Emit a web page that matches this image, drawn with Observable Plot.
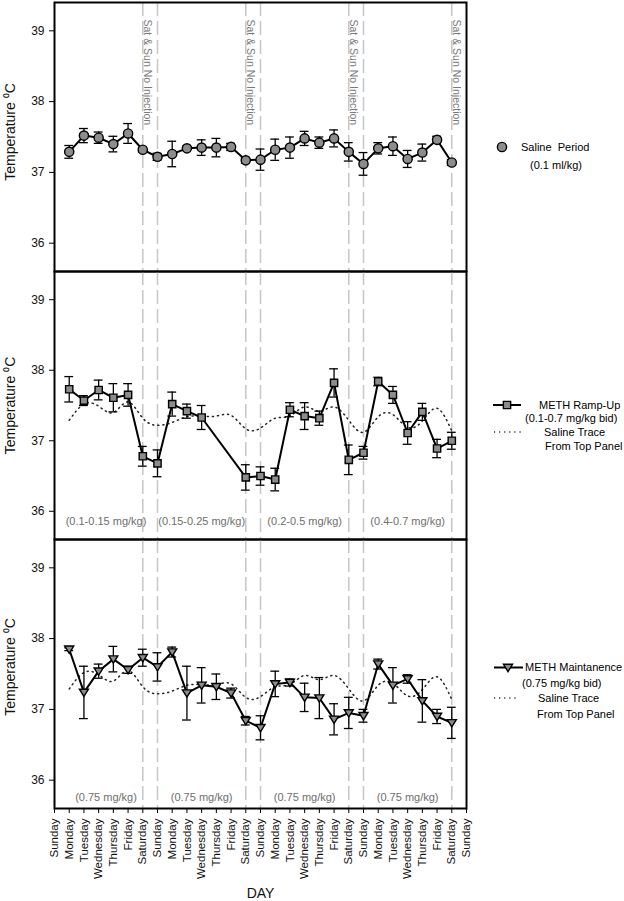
<!DOCTYPE html>
<html><head><meta charset="utf-8">
<script src="https://cdn.jsdelivr.net/npm/d3@7"></script>
<script src="https://cdn.jsdelivr.net/npm/@observablehq/plot@0.6"></script>
<style>
body{margin:0;background:#fff;font-family:"Liberation Sans",Arial,sans-serif;}
#chart{position:relative;width:624px;height:901px;overflow:hidden;background:#fff;}
#chart > svg{display:block;overflow:visible;}
#legend{position:absolute;left:0;top:0;}
</style></head><body><div id="chart"></div>
<script>
// ---------- data ----------
const dayTickLabels = ["Sunday","Monday","Tuesday","Wednesday","Thursday","Friday","Saturday",
  "Sunday","Monday","Tuesday","Wednesday","Thursday","Friday","Saturday",
  "Sunday","Monday","Tuesday","Wednesday","Thursday","Friday","Saturday",
  "Sunday","Monday","Tuesday","Wednesday","Thursday","Friday","Saturday","Sunday"];
const weekendDays = [6, 7, 13, 14, 20, 21, 27];
const noInjectionDays = [6, 13, 20, 27];
const noInjectionText = "Sat & Sun No Injection";

const salineDays = [1,2,3,4,5,6,7,8,9,10,11,12,13,14,15,16,17,18,19,20,21,22,23,24,25,26,27];
const salineMean = [37.29,37.52,37.49,37.40,37.55,37.32,37.22,37.26,37.34,37.35,37.35,37.36,37.17,37.18,37.32,37.35,37.48,37.42,37.48,37.29,37.12,37.34,37.37,37.19,37.28,37.46,37.14];
const salineSem  = [0.09,0.10,0.08,0.11,0.14,0.03,0.05,0.18,0.03,0.11,0.13,0.05,0.04,0.15,0.15,0.15,0.10,0.08,0.12,0.13,0.16,0.08,0.13,0.12,0.12,0.05,0.04];

const rampDays = [1,2,3,4,5,6,7,8,9,10,13,14,15,16,17,18,19,20,21,22,23,24,25,26,27];
const rampMean = [37.73,37.57,37.72,37.61,37.65,36.78,36.68,37.52,37.42,37.33,36.48,36.50,36.45,37.44,37.35,37.32,37.82,36.73,36.83,37.84,37.65,37.11,37.41,36.89,37.00];
const rampSem  = [0.18,0.07,0.14,0.20,0.16,0.14,0.19,0.17,0.10,0.17,0.18,0.13,0.16,0.10,0.19,0.10,0.20,0.21,0.09,0.06,0.12,0.16,0.12,0.13,0.12];
const rampDoseLabels = ["(0.1-0.15 mg/kg)", "(0.15-0.25 mg/kg)", "(0.2-0.5 mg/kg)", "(0.4-0.7 mg/kg)"];

const maintDays = [1,2,3,4,5,6,7,8,9,10,11,12,13,14,15,16,17,18,19,20,21,22,23,24,25,26,27];
const maintMean = [37.85,37.24,37.54,37.71,37.56,37.73,37.60,37.81,37.23,37.34,37.32,37.23,36.84,36.74,37.36,37.38,37.17,37.16,36.86,36.95,36.91,37.64,37.34,37.43,37.12,36.90,36.81];
const maintSem  = [0.02,0.37,0.10,0.18,0.05,0.12,0.20,0.07,0.38,0.25,0.18,0.07,0.06,0.17,0.18,0.05,0.20,0.29,0.22,0.22,0.09,0.07,0.25,0.06,0.30,0.10,0.22];
const maintDoseLabels = ["(0.75 mg/kg)", "(0.75 mg/kg)", "(0.75 mg/kg)", "(0.75 mg/kg)"];
const doseLabelDays = [3.5, 10, 17, 24];

const yTicks = [36, 37, 38, 39];
const yDomain = [35.6, 39.4];
const yTitle = "Temperature \u2070C";
const xTitle = "DAY";

// ---------- helpers ----------
const FONT = '"Liberation Sans", Arial, sans-serif';
const GRAYFILL = "#8c8c8c";
const rows = (days, mean, sem) => days.map((d, i) => ({day: d, mean: mean[i], lo: mean[i] - sem[i], hi: mean[i] + sem[i]}));
const saline = rows(salineDays, salineMean, salineSem);
const ramp = rows(rampDays, rampMean, rampSem);
const maint = rows(maintDays, maintMean, maintSem);
const tickPositions = dayTickLabels.map((_, i) => i);

const triangleDown = {
  draw(ctx, size) {
    const r = Math.sqrt(size / Math.PI);
    ctx.moveTo(-r * 1.05, -r * 0.75);
    ctx.lineTo(r * 1.05, -r * 0.75);
    ctx.lineTo(0, r * 0.95);
    ctx.closePath();
  }
};

function seriesMarks(data, symbol, r) {
  return [
    Plot.ruleX(data, {x: "day", y1: "lo", y2: "hi", stroke: "black", strokeWidth: 1.3}),
    Plot.ruleY(data, {y: "hi", x1: d => d.day - 0.3, x2: d => d.day + 0.3, stroke: "black", strokeWidth: 1.3}),
    Plot.ruleY(data, {y: "lo", x1: d => d.day - 0.3, x2: d => d.day + 0.3, stroke: "black", strokeWidth: 1.3}),
    Plot.line(data, {x: "day", y: "mean", stroke: "black", strokeWidth: 2}),
    Plot.dot(data, {x: "day", y: "mean", symbol, r, fill: GRAYFILL, stroke: "black", strokeWidth: 1.4})
  ];
}
const traceMark = () => Plot.line(saline, {x: "day", y: "mean", curve: "natural", stroke: "#222", strokeWidth: 1.5, strokeDasharray: "1.1,4"});

function panel({height, marginTop, marginBottom, marks, titleDy, bottomAxis}) {
  return Plot.plot({
    width: 624, height, marginLeft: 54, marginRight: 158, marginTop, marginBottom,
    style: {fontFamily: FONT, fontSize: "12px", color: "black", overflow: "visible", background: "transparent"},
    x: {domain: [0, dayTickLabels.length - 1], axis: null},
    y: {domain: yDomain, axis: null},
    marks: [
      Plot.ruleX(weekendDays, {stroke: "#c6c6c6", strokeWidth: 1.5, strokeDasharray: "14,5"}),
      ...marks,
      Plot.axisY(yTicks, {tickSize: 5, tickPadding: 5, tickFormat: d => String(d), label: null, fontSize: 12, fill: "#111"}),
      Plot.text([yTitle], {frameAnchor: "left", rotate: -90, dx: -43.5, dy: titleDy, fontSize: 14, textAnchor: "middle", lineAnchor: "middle", fill: "#111"}),
      ...(bottomAxis ? [
        Plot.axisX(tickPositions, {tickFormat: i => dayTickLabels[i], tickRotate: -90, tickSize: 5, tickPadding: 5, label: null, fontSize: 11.5, fill: "#111"}),
        Plot.text([xTitle], {frameAnchor: "bottom", dy: 85, fontSize: 14, textAnchor: "middle", lineAnchor: "middle", fill: "#111"})
      ] : []),
      Plot.frame({stroke: "black", strokeWidth: 2})
    ]
  });
}

const chart = document.getElementById("chart");

// Panel 1: saline
chart.append(panel({
  height: 271, marginTop: 2, marginBottom: 0, titleDy: -5,
  marks: [
    ...seriesMarks(saline, "circle", 4.6),
    Plot.text(noInjectionDays, {x: d => d, frameAnchor: "top", dy: 17, dx: 5, rotate: 90, text: () => noInjectionText,
      textAnchor: "start", lineAnchor: "middle", fontSize: 10.5, fill: "#7a7a7a"})
  ]
}));

// Panel 2: ramp-up
chart.append(panel({
  height: 268, marginTop: 0, marginBottom: 0, titleDy: 0,
  marks: [
    traceMark(),
    ...seriesMarks(ramp, "square", 4.1),
    Plot.text(rampDoseLabels, {x: (d, i) => doseLabelDays[i], frameAnchor: "bottom", dy: -18, fontSize: 11, fill: "#6e6e6e", lineAnchor: "middle"})
  ]
}));

// Panel 3: maintenance
chart.append(panel({
  height: 362, marginTop: 0, marginBottom: 93, titleDy: -7, bottomAxis: true,
  marks: [
    traceMark(),
    ...seriesMarks(maint, triangleDown, 4.3),
    Plot.text(maintDoseLabels, {x: (d, i) => doseLabelDays[i], frameAnchor: "bottom", dy: -11, fontSize: 11, fill: "#6e6e6e", lineAnchor: "middle"})
  ]
}));

// ---------- legends (layout only) ----------
const lg = d3.select(chart).append("svg").attr("id", "legend").attr("width", 624).attr("height", 901)
  .style("font-family", FONT).style("font-size", "11px");
function label(x, y, t) { lg.append("text").attr("x", x).attr("y", y).attr("dy", "0.35em").attr("xml:space", "preserve").text(t); }
function solid(x1, x2, y) { lg.append("line").attr("x1", x1).attr("x2", x2).attr("y1", y).attr("y2", y).attr("stroke", "black").attr("stroke-width", 2); }
function dotted(x1, x2, y) { lg.append("line").attr("x1", x1).attr("x2", x2).attr("y1", y).attr("y2", y).attr("stroke", "#222").attr("stroke-width", 1.5).attr("stroke-dasharray", "1.1,4"); }
function sym(type, x, y, r) {
  lg.append("path").attr("transform", `translate(${x},${y})`)
    .attr("d", d3.symbol(type, Math.PI * r * r)())
    .attr("fill", GRAYFILL).attr("stroke", "black").attr("stroke-width", 1.4);
}
// panel 1
sym(d3.symbolCircle, 502, 147, 4.6);
label(521, 147, "Saline  Period");
label(530, 165, "(0.1 ml/kg)");
// panel 2
solid(493, 521, 405); sym(d3.symbolSquare, 507, 405, 4.1);
label(539, 405, "METH Ramp-Up");
label(525, 418, "(0.1-0.7 mg/kg bid)");
dotted(494, 521, 432);
label(544, 432, "Saline Trace");
label(545, 446.5, "From Top Panel");
// panel 3
solid(494, 523, 667.5); sym(triangleDown, 508, 667.5, 4.3);
label(525, 667, "METH Maintanence");
label(522, 683, "(0.75 mg/kg bid)");
dotted(494, 519, 698);
label(538, 698, "Saline Trace");
label(537, 714, "From Top Panel");
</script></body></html>
